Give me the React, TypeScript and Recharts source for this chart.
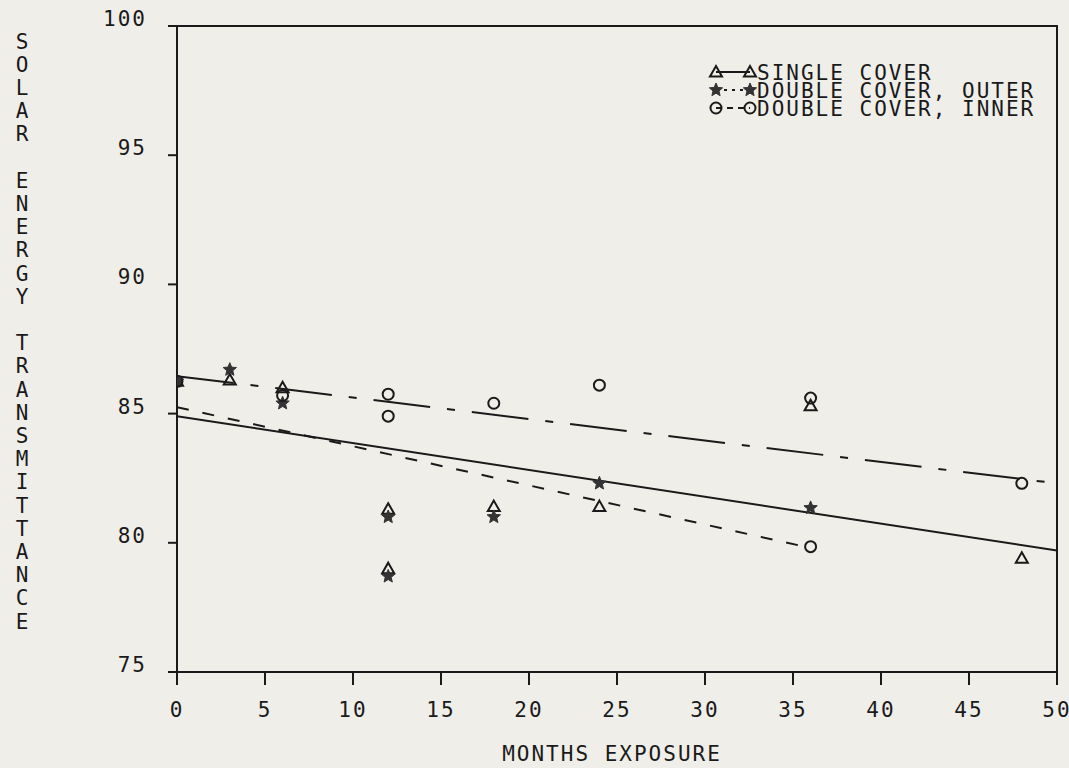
import React from 'react';
import { ComposedChart, Scatter, Line, XAxis, YAxis, ReferenceArea } from 'recharts';

// ---- data ----
const singleMonths = [0, 3, 6, 12, 12, 18, 24, 36, 48];
const singleValues = [86.25, 86.3, 86.0, 81.3, 79.0, 81.4, 81.4, 85.3, 79.4];

const outerMonths = [0, 3, 6, 12, 12, 18, 24, 36];
const outerValues = [86.25, 86.7, 85.4, 81.0, 78.7, 81.0, 82.3, 81.35];

const innerMonths = [0, 6, 12, 12, 18, 24, 36, 36, 48];
const innerValues = [86.25, 85.7, 85.75, 84.9, 85.4, 86.1, 85.6, 79.85, 82.3];

const fitSingleMonths = [0, 50];
const fitSingleValues = [84.9, 79.7];
const fitOuterMonths = [0, 36];
const fitOuterValues = [85.25, 79.8];
const fitInnerMonths = [0, 50];
const fitInnerValues = [86.45, 82.3];

const xTicks = [0, 5, 10, 15, 20, 25, 30, 35, 40, 45, 50];
const yTicks = [75, 80, 85, 90, 95, 100];

const legendLabels = ['SINGLE COVER', 'DOUBLE COVER, OUTER', 'DOUBLE COVER, INNER'];
const yAxisTitle = 'SOLAR ENERGY TRANSMITTANCE';
const xAxisTitle = 'MONTHS EXPOSURE';

const toPoints = (xs: number[], ys: number[]) => xs.map((x, i) => ({ x, y: ys[i] }));

const singleData = toPoints(singleMonths, singleValues);
const outerData = toPoints(outerMonths, outerValues);
const innerData = toPoints(innerMonths, innerValues);
const fitSingle = toPoints(fitSingleMonths, fitSingleValues);
const fitOuter = toPoints(fitOuterMonths, fitOuterValues);
const fitInner = toPoints(fitInnerMonths, fitInnerValues);

if (typeof document !== 'undefined') {
  document.body.style.margin = '0';
  document.body.style.background = '#efeee9';
}

const INK = '#1a1a1a';
const BG = '#efeee9';
const FONT = '"DejaVu Sans Mono", monospace';
const FS = 21;
const LS = 2;

const TriangleMark = ({ cx, cy }: any) => {
  if (cx == null || cy == null) return null;
  const s = 6;
  return (
    <path
      d={`M${cx},${cy - s} L${cx + s},${cy + s * 0.75} L${cx - s},${cy + s * 0.75} Z`}
      fill="none"
      stroke={INK}
      strokeWidth={2}
    />
  );
};

const starPath = (cx: number, cy: number, R: number) => {
  const r = R * 0.45;
  let d = '';
  for (let i = 0; i < 10; i++) {
    const a = -Math.PI / 2 + (i * Math.PI) / 5;
    const rad = i % 2 === 0 ? R : r;
    d += `${i === 0 ? 'M' : 'L'}${cx + rad * Math.cos(a)},${cy + rad * Math.sin(a)} `;
  }
  return d + 'Z';
};

const StarMark = ({ cx, cy }: any) => {
  if (cx == null || cy == null) return null;
  return <path d={starPath(cx, cy, 7)} fill="#333" stroke="#333" strokeWidth={1} />;
};

const CircleMark = ({ cx, cy }: any) => {
  if (cx == null || cy == null) return null;
  return <circle cx={cx} cy={cy} r={5.5} fill="none" stroke={INK} strokeWidth={2} />;
};

const YTick = ({ x, y, payload }: any) => (
  <text x={x} y={y} textAnchor="end" fontFamily={FONT} fontSize={FS} letterSpacing={LS} fill={INK}>
    {payload.value}
  </text>
);

const XTick = ({ x, y, payload }: any) => (
  <text x={x} y={y + 14} textAnchor="middle" fontFamily={FONT} fontSize={FS} letterSpacing={LS} fill={INK}>
    {payload.value}
  </text>
);

const Overlay = () => {
  const rows = [
    { label: legendLabels[0], dash: undefined, Mark: TriangleMark },
    { label: legendLabels[1], dash: '3 5', Mark: StarMark },
    { label: legendLabels[2], dash: '6 5', Mark: CircleMark },
  ];
  const chars = yAxisTitle.split('');
  return (
    <svg
      width={1069}
      height={768}
      style={{ position: 'absolute', left: 0, top: 0, pointerEvents: 'none' }}
    >
      {/* vertical y-axis title */}
      {chars.map((c, i) =>
        c === ' ' ? null : (
          <text
            key={i}
            x={22}
            y={41 + i * 23.2 + 7.5}
            textAnchor="middle"
            fontFamily={FONT}
            fontSize={FS}
            fill={INK}
          >
            {c}
          </text>
        )
      )}
      {/* x-axis title */}
      <text x={612} y={761} textAnchor="middle" fontFamily={FONT} fontSize={FS} letterSpacing={LS} fill={INK}>
        {xAxisTitle}
      </text>
      {/* legend */}
      {rows.map((r, i) => {
        const cy = 72 + i * 18;
        return (
          <g key={r.label}>
            <line x1={716} y1={cy} x2={750} y2={cy} stroke={INK} strokeWidth={1.8} strokeDasharray={r.dash} />
            <r.Mark cx={716} cy={cy} />
            <r.Mark cx={750} cy={cy} />
            <text x={757} y={cy + 7.5} fontFamily={FONT} fontSize={FS} letterSpacing={LS} fill={INK}>
              {r.label}
            </text>
          </g>
        );
      })}
    </svg>
  );
};

export default function App() {
  return (
    <div style={{ position: 'relative', width: 1069, height: 768, background: BG }}>
      <ComposedChart
        width={1069}
        height={768}
        margin={{ top: 26, right: 12, bottom: 0, left: 0 }}
        style={{ background: BG }}
      >
        <XAxis
          type="number"
          dataKey="x"
          domain={[0, 50]}
          ticks={xTicks}
          allowDataOverflow
          height={96}
          tickSize={13}
          tickMargin={18}
          tick={<XTick />}
          axisLine={{ stroke: INK, strokeWidth: 2 }}
          tickLine={{ stroke: INK, strokeWidth: 2 }}
        />
        <YAxis
          type="number"
          dataKey="y"
          domain={[75, 100]}
          ticks={yTicks}
          allowDataOverflow
          width={177}
          tickSize={9}
          tickMargin={21}
          tick={<YTick />}
          axisLine={{ stroke: INK, strokeWidth: 2 }}
          tickLine={{ stroke: INK, strokeWidth: 2 }}
        />
        <ReferenceArea x1={0} x2={50} y1={75} y2={100} fill="none" stroke={INK} strokeWidth={2} ifOverflow="visible" />
        <Line data={fitSingle} dataKey="y" type="linear" dot={false} stroke={INK} strokeWidth={2} isAnimationActive={false} />
        <Line
          data={fitOuter}
          dataKey="y"
          type="linear"
          dot={false}
          stroke={INK}
          strokeWidth={2}
          strokeDasharray="12 14"
          isAnimationActive={false}
        />
        <Line
          data={fitInner}
          dataKey="y"
          type="linear"
          dot={false}
          stroke={INK}
          strokeWidth={2}
          strokeDasharray="57 17 8 17"
          isAnimationActive={false}
        />
        <Scatter data={singleData} dataKey="y" shape={TriangleMark} isAnimationActive={false} />
        <Scatter data={outerData} dataKey="y" shape={StarMark} isAnimationActive={false} />
        <Scatter data={innerData} dataKey="y" shape={CircleMark} isAnimationActive={false} />
      </ComposedChart>
      <Overlay />
    </div>
  );
}
